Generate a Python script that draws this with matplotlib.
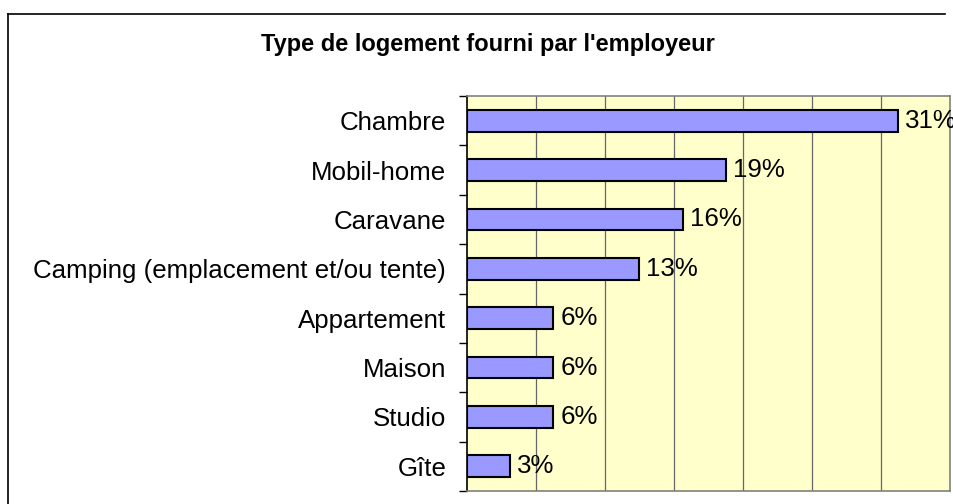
import numpy as np
import matplotlib
matplotlib.use("Agg")
import matplotlib.pyplot as plt
from matplotlib.lines import Line2D

categories = ["Chambre", "Mobil-home", "Caravane",
              "Camping (emplacement et/ou tente)", "Appartement",
              "Maison", "Studio", "Gîte"]
# bar lengths (percent)
values = [31.25, 18.75, 15.625, 12.5, 6.25, 6.25, 6.25, 3.125]
value_labels = ["31%", "19%", "16%", "13%", "6%", "6%", "6%", "3%"]
title = "Type de logement fourni par l'employeur"

W, H = 954, 504
plt.rcParams.update({"font.family": ["Liberation Sans", "DejaVu Sans"]})
fig = plt.figure(figsize=(W / 100, H / 100), dpi=100)
fig.patch.set_facecolor("white")

# plot area in pixel coords -> figure fractions
x0, x1, y0, y1 = 467, 950, 96, 491
ax = fig.add_axes([x0 / W, 1 - y1 / H, (x1 - x0) / W, (y1 - y0) / H])
ax.set_facecolor("#FFFFCC")

pos = np.arange(len(categories))
bars = ax.barh(pos, values, height=0.44, color="#9999FF",
               edgecolor="black", linewidth=1.5, zorder=3)
ax.bar_label(bars, labels=value_labels, padding=5,
             fontsize=18.6, color="black")

ax.set_xlim(0, 35)
ax.set_ylim(len(categories) - 0.5, -0.5)
ax.set_xticks(np.arange(5, 35, 5))
ax.tick_params(axis="x", length=0, labelbottom=False)
ax.grid(axis="x", color="#666666", linewidth=0.9, zorder=1)

ax.set_yticks(pos)
ax.set_yticklabels(categories, fontsize=18.6)
ax.set_yticks(np.arange(-0.5, len(categories), 1), minor=True)
ax.tick_params(axis="y", which="major", length=0, pad=15)
ax.tick_params(axis="y", which="minor", length=6, width=1, color="black")

for side in ["top", "right", "bottom"]:
    ax.spines[side].set_color("#808080")
    ax.spines[side].set_linewidth(1.2)
ax.spines["left"].set_color("black")
ax.spines["left"].set_linewidth(1.2)

fig.text(488 / W, 1 - 45 / H, title, ha="center", va="center",
         fontsize=17, fontweight="bold")

# chart frame (cropped on right and bottom)
fig.add_artist(Line2D([8 / W, 945 / W], [1 - 14 / H, 1 - 14 / H],
                      transform=fig.transFigure, color="black", lw=1.2))
fig.add_artist(Line2D([8 / W, 8 / W], [1 - 14 / H, 0],
                      transform=fig.transFigure, color="black", lw=1.2))

fig.savefig("out.png", dpi=100)
